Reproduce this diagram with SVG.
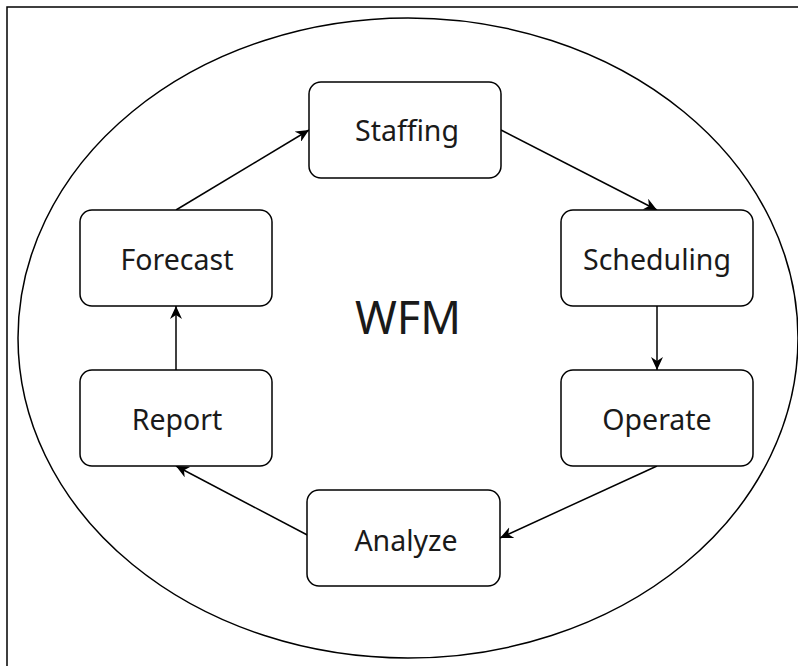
<svg xmlns="http://www.w3.org/2000/svg" width="798" height="666" viewBox="0 0 798 666">
<style>
.node rect{fill:#fff;stroke:#000;stroke-width:1.5}
.node text{font-family:"Noto Sans","Open Sans",sans-serif;font-size:28.5px;fill:#1a1a1a;text-anchor:middle}
.edge{fill:none;stroke:#000;stroke-width:1.5;marker-end:url(#ah)}
</style>
<defs>
<marker id="ah" markerWidth="14" markerHeight="12" refX="13" refY="6" orient="auto" markerUnits="userSpaceOnUse">
<path d="M0,0 L13,6 L0,12 L4,6 Z" fill="#000"/>
</marker>
</defs>
<rect x="7" y="7" width="900" height="800" fill="#fff" stroke="#000" stroke-width="1.5"/>
<ellipse cx="408" cy="338" rx="390" ry="320" fill="none" stroke="#000" stroke-width="1.5"/>
<text x="408" y="334" font-family="Noto Sans,Open Sans,sans-serif" font-size="45" text-anchor="middle" fill="#1a1a1a">WFM</text>
<g id="connectors">
<path class="edge" d="M176,210 L309,130"/>
<path class="edge" d="M501,130 L657,210"/>
<path class="edge" d="M657,306 L657,370"/>
<path class="edge" d="M657,466 L500,538"/>
<path class="edge" d="M313,538 L176,466"/>
<path class="edge" d="M176,370 L176,306"/>
</g>
<g id="staffing" class="node"><rect x="309" y="82" width="192" height="96" rx="12"/><text x="407" y="141">Staffing</text></g>
<g id="scheduling" class="node"><rect x="561" y="210" width="192" height="96" rx="12"/><text x="657" y="270">Scheduling</text></g>
<g id="operate" class="node"><rect x="561" y="370" width="192" height="96" rx="12"/><text x="657" y="430">Operate</text></g>
<g id="analyze" class="node"><rect x="307" y="490" width="193" height="96" rx="12"/><text x="406" y="551">Analyze</text></g>
<g id="report" class="node"><rect x="80" y="370" width="192" height="96" rx="12"/><text x="177" y="430">Report</text></g>
<g id="forecast" class="node"><rect x="80" y="210" width="192" height="96" rx="12"/><text x="177" y="270">Forecast</text></g>
</svg>
